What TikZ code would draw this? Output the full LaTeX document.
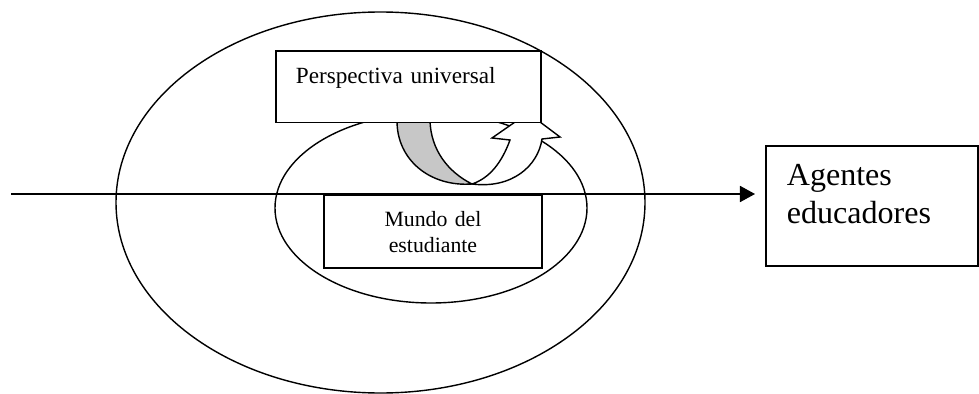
\documentclass[tikz,border=0pt]{standalone}
\usepackage{fontspec}
\setmainfont{Liberation Serif}
\usepackage{xcolor}
\usetikzlibrary{arrows.meta, positioning}

\tikzset{
  wbox/.style={draw, line width=1.3pt, fill=white, anchor=north west, inner ysep=0pt},
  bandgray/.style={fill=black!22, draw, line width=1pt, line join=round},
}

\begin{document}
\begin{tikzpicture}[x=0.025cm, y=-0.025cm]
\useasboundingbox (0,0) rectangle (979,394);
% the two worlds
\draw[line width=1pt] (380.5,202.5) ellipse [x radius=264.5, y radius=190.5];
\draw[line width=1pt] (431,208) ellipse [x radius=156, y radius=95];
% boxes
\node[wbox, inner xsep=5pt, text width=145.1pt, align=center,
      text height=22.8pt, text depth=29.1pt,
      font=\fontsize{15.5pt}{17.8pt}\selectfont] (mundo) at (323,194) {Mundo del\\estudiante};
\node[wbox, inner xsep=14.9pt, text width=121pt, align=left,
      text height=28.5pt, text depth=56.9pt,
      font=\fontsize{22.8pt}{27pt}\selectfont] (agentes) at (765,145) {Agentes\\educadores};
% axis arrow
\coordinate (start) at (11,194);
\draw[line width=1.2pt, -{Triangle[length=10.7pt, width=11.4pt]}, shorten >=7.1pt]
  (start) -- (agentes.west |- start);
% curved arrow
\draw[bandgray] (397,121) .. controls (397,160) and (430,187) .. (472,184)
  .. controls (448,172) and (431,150) .. (430,121) -- cycle;
\draw[fill=white, line width=1pt, line join=miter]
  (472,184) .. controls (512,189) and (538,166) .. (542,139)
  -- (560,137) -- (528,113) -- (492,138) -- (510,140)
  .. controls (502,162) and (490,178) .. (472,184) -- cycle;
\node[wbox, inner xsep=14.2pt, text width=160.1pt, align=left,
      text height=23pt, text depth=27.9pt,
      font=\fontsize{16.5pt}{19pt}\selectfont] (persp) at (275,50) {Perspectiva universal};
\end{tikzpicture}
\end{document}
